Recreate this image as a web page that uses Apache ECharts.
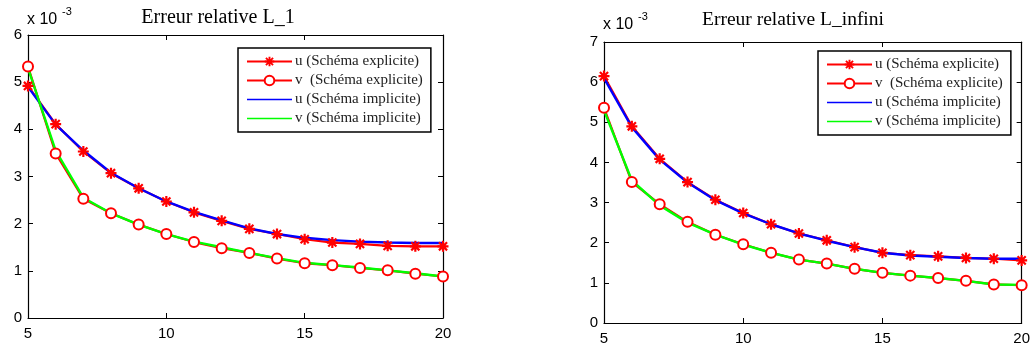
<!DOCTYPE html>
<html>
<head>
<meta charset="utf-8">
<script src="https://cdn.jsdelivr.net/npm/echarts@6/dist/echarts.min.js"></script>
<style>
  html, body { margin: 0; padding: 0; background: #fff; }
  #chart { width: 1033px; height: 349px; }
</style>
</head>
<body>
<div id="chart"></div>
<script>
// values in units of 1e-3
var steps = [5, 6, 7, 8, 9, 10, 11, 12, 13, 14, 15, 16, 17, 18, 19, 20];

// Erreur relative L_1
var l1UExpl = [4.92, 4.11, 3.53, 3.07, 2.75, 2.47, 2.24, 2.06, 1.89, 1.78, 1.67, 1.60, 1.57, 1.53, 1.52, 1.52];
var l1VExpl = [5.33, 3.49, 2.53, 2.22, 1.98, 1.78, 1.61, 1.48, 1.38, 1.26, 1.16, 1.12, 1.06, 1.01, 0.94, 0.88];
var l1UImpl = [4.90, 4.10, 3.55, 3.08, 2.75, 2.47, 2.25, 2.07, 1.90, 1.78, 1.70, 1.65, 1.62, 1.60, 1.59, 1.59];
var l1VImpl = [5.30, 3.55, 2.55, 2.22, 1.98, 1.78, 1.62, 1.50, 1.38, 1.27, 1.17, 1.12, 1.07, 1.01, 0.95, 0.88];

// Erreur relative L_infini
var liUExpl = [6.15, 4.90, 4.09, 3.51, 3.07, 2.74, 2.46, 2.23, 2.06, 1.89, 1.75, 1.69, 1.66, 1.62, 1.60, 1.56];
var liVExpl = [5.36, 3.51, 2.96, 2.52, 2.20, 1.96, 1.75, 1.58, 1.48, 1.35, 1.25, 1.18, 1.12, 1.05, 0.96, 0.94];
var liUImpl = [6.10, 4.88, 4.07, 3.50, 3.06, 2.73, 2.46, 2.23, 2.05, 1.89, 1.75, 1.68, 1.65, 1.62, 1.60, 1.60];
var liVImpl = [5.30, 3.55, 2.93, 2.50, 2.20, 1.95, 1.75, 1.58, 1.48, 1.35, 1.25, 1.18, 1.12, 1.05, 0.96, 0.95];

var names = ['u (Schéma explicite)', 'v  (Schéma explicite)', 'u (Schéma implicite)', 'v (Schéma implicite)'];
var titles = ['Erreur relative L_1', 'Erreur relative L_infini'];
var yMax = [6, 7];

var red = '#ff0000', blue = '#0000ff', green = '#00ff00';
var star = 'path://M8 0H12V20H8Z M0 8H20V12H0Z M1.2 4L4 1.2L18.8 16L16 18.8Z M16 1.2L18.8 4L4 18.8L1.2 16Z';
// plain line icon for the legend (tiny corner dots only set the box size)
var lineIcon = 'path://M0 0H0.1V0.1H0Z M0 4.6H100V7.9H0Z M99.9 12.4H100V12.5H99.9Z';
var serif = '"Liberation Serif", "DejaVu Serif", serif';
var sans = '"Liberation Sans", Arial, sans-serif';

function pairs(ys) {
  return steps.map(function(x, i) { return [x, ys[i]]; });
}

var grids = [
  { left: 28, top: 35, width: 415, height: 283 },
  { left: 604, top: 42, width: 419, height: 281 }
];

var xAxes = [], yAxes = [];
grids.forEach(function(g, gi) {
  [['bottom', true], ['top', false]].forEach(function(p) {
    xAxes.push({
      type: 'value', gridIndex: gi, position: p[0], min: 5, max: 20, interval: 5,
      axisLine: { show: true, onZero: false, lineStyle: { color: '#000', width: 1.2 } },
      axisTick: { show: true, inside: true, length: 5, lineStyle: { color: '#000' } },
      axisLabel: { show: p[1], color: '#000', fontFamily: sans, fontSize: 15, margin: 8 },
      splitLine: { show: false }
    });
  });
  [['left', true], ['right', false]].forEach(function(p) {
    yAxes.push({
      type: 'value', gridIndex: gi, position: p[0], min: 0, max: yMax[gi], interval: 1,
      axisLine: { show: true, onZero: false, lineStyle: { color: '#000', width: 1.2 } },
      axisTick: { show: true, inside: true, length: 5, lineStyle: { color: '#000' } },
      axisLabel: { show: p[1], color: '#000', fontFamily: sans, fontSize: 15, margin: 6 },
      splitLine: { show: false }
    });
  });
});

function makeSeries(gi, uE, vE, uI, vI) {
  var base = { type: 'line', xAxisIndex: gi * 2, yAxisIndex: gi * 2, animation: false };
  return [
    Object.assign({}, base, {
      name: names[0], data: pairs(uE), symbol: star, symbolSize: 11,
      lineStyle: { color: red, width: 2.2 }, itemStyle: { color: red }
    }),
    Object.assign({}, base, {
      name: names[1], data: pairs(vE), symbol: 'emptyCircle', symbolSize: 10,
      lineStyle: { color: red, width: 2.2 }, itemStyle: { color: red, borderColor: red, borderWidth: 1.6 }
    }),
    Object.assign({}, base, {
      name: names[2], data: pairs(uI), symbol: 'none',
      lineStyle: { color: blue, width: 2.4 }, itemStyle: { color: blue }
    }),
    Object.assign({}, base, {
      name: names[3], data: pairs(vI), symbol: 'none',
      lineStyle: { color: green, width: 2.4 }, itemStyle: { color: green }
    })
  ];
}

var legendPos = [{ left: 238, top: 48 }, { left: 818, top: 51 }];
var legends = legendPos.map(function(p) {
  return {
    orient: 'vertical', left: p.left, top: p.top,
    data: [
      { name: names[0] },
      { name: names[1] },
      { name: names[2], icon: lineIcon },
      { name: names[3], icon: lineIcon }
    ],
    itemWidth: 45, itemHeight: 12, itemGap: 4,
    padding: [6, 8, 6, 8],
    borderColor: '#000', borderWidth: 1.5, backgroundColor: '#fff',
    selectedMode: false,
    textStyle: { fontFamily: serif, fontSize: 15, color: '#222', padding: [0, 0, 0, -2] }
  };
});

var chart = echarts.init(document.getElementById('chart'), null, { renderer: 'canvas' });
chart.setOption({
  backgroundColor: '#fff',
  animation: false,
  title: [
    { text: titles[0], left: 213, top: 3, textAlign: 'center',
      textStyle: { fontFamily: serif, fontSize: 20, fontWeight: 'normal', color: '#000' } },
    { text: titles[1], left: 788, top: 5, textAlign: 'center',
      textStyle: { fontFamily: serif, fontSize: 19.5, fontWeight: 'normal', color: '#000' } }
  ],
  grid: grids,
  xAxis: xAxes,
  yAxis: yAxes,
  legend: legends,
  graphic: [
    { type: 'text', left: 27, top: 12, style: { text: 'x 10', font: '16px ' + sans, fill: '#000' } },
    { type: 'text', left: 62, top: 6, style: { text: '-3', font: '11px ' + sans, fill: '#000' } },
    { type: 'text', left: 603, top: 17, style: { text: 'x 10', font: '16px ' + sans, fill: '#000' } },
    { type: 'text', left: 638, top: 11, style: { text: '-3', font: '11px ' + sans, fill: '#000' } }
  ],
  series: makeSeries(0, l1UExpl, l1VExpl, l1UImpl, l1VImpl)
    .concat(makeSeries(1, liUExpl, liVExpl, liUImpl, liVImpl))
});
</script>
</body>
</html>
